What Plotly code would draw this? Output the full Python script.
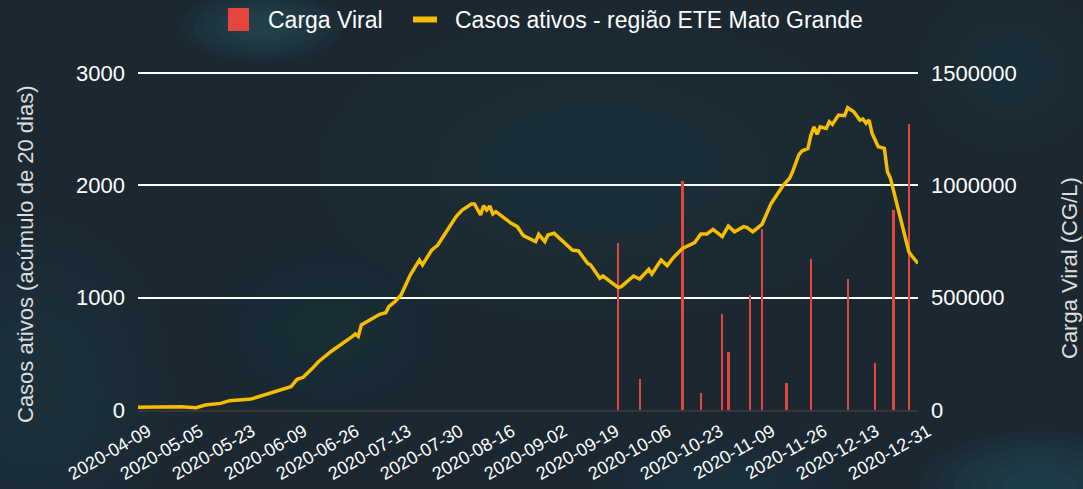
import pandas as pd
import plotly.graph_objects as go

# ---------------- data ----------------
start_date = "2020-04-09"
end_date = "2020-12-31"
missing_dates = ["2020-04-11", "2020-04-12", "2020-04-18", "2020-04-19",
                 "2020-04-25", "2020-04-26", "2020-05-01", "2020-05-02",
                 "2020-05-03", "2020-05-14", "2020-12-25"]
categories = [d.strftime("%Y-%m-%d") for d in pd.date_range(start_date, end_date)
              if d.strftime("%Y-%m-%d") not in missing_dates]

tick_labels = ["2020-04-09", "2020-05-05", "2020-05-23", "2020-06-09", "2020-06-26",
               "2020-07-13", "2020-07-30", "2020-08-16", "2020-09-02", "2020-09-19",
               "2020-10-06", "2020-10-23", "2020-11-09", "2020-11-26", "2020-12-13",
               "2020-12-31"]

line_dates = ["2020-04-09", "2020-04-21", "2020-04-29", "2020-05-07", "2020-05-10",
              "2020-05-16", "2020-05-19", "2020-05-26", "2020-05-30", "2020-06-03",
              "2020-06-08", "2020-06-10", "2020-06-12", "2020-06-15", "2020-06-17",
              "2020-06-21", "2020-06-25", "2020-06-28", "2020-06-29", "2020-06-30",
              "2020-07-01", "2020-07-04", "2020-07-07", "2020-07-09", "2020-07-10",
              "2020-07-12", "2020-07-14", "2020-07-17", "2020-07-20", "2020-07-21",
              "2020-07-24", "2020-07-26", "2020-07-29", "2020-08-01", "2020-08-03",
              "2020-08-06", "2020-08-07", "2020-08-09", "2020-08-10", "2020-08-11",
              "2020-08-12", "2020-08-13", "2020-08-14", "2020-08-16", "2020-08-19",
              "2020-08-21", "2020-08-22", "2020-08-23", "2020-08-27", "2020-08-28",
              "2020-08-30", "2020-08-31", "2020-09-02", "2020-09-05", "2020-09-08",
              "2020-09-10", "2020-09-13", "2020-09-14", "2020-09-17", "2020-09-18",
              "2020-09-23", "2020-09-24", "2020-09-28", "2020-09-30", "2020-10-03",
              "2020-10-04", "2020-10-07", "2020-10-09", "2020-10-11", "2020-10-14",
              "2020-10-18", "2020-10-20", "2020-10-22", "2020-10-24", "2020-10-27",
              "2020-10-29", "2020-10-31", "2020-11-03", "2020-11-04", "2020-11-06",
              "2020-11-09", "2020-11-12", "2020-11-15", "2020-11-16", "2020-11-18",
              "2020-11-19", "2020-11-21", "2020-11-22", "2020-11-24", "2020-11-25",
              "2020-11-26", "2020-11-27", "2020-11-28", "2020-11-30", "2020-12-01",
              "2020-12-02", "2020-12-04", "2020-12-06", "2020-12-07", "2020-12-09",
              "2020-12-11", "2020-12-12", "2020-12-13", "2020-12-14", "2020-12-15",
              "2020-12-17", "2020-12-19", "2020-12-20", "2020-12-21", "2020-12-23",
              "2020-12-26", "2020-12-28", "2020-12-29", "2020-12-31"]
casos_ativos = [25, 27, 29, 20, 44,
                59, 83, 98, 133, 169,
                207, 273, 291, 371, 430,
                519, 593, 653, 677, 655,
                757, 801, 852, 866, 920,
                964, 1024, 1202, 1335, 1291,
                1424, 1469, 1602, 1721, 1780,
                1834, 1834, 1736, 1819, 1780,
                1816, 1745, 1766, 1721, 1662,
                1632, 1587, 1552, 1499, 1564,
                1499, 1558, 1573, 1499, 1424,
                1416, 1305, 1291, 1172, 1193,
                1089, 1098, 1193, 1166, 1252,
                1211, 1335, 1285, 1356, 1439,
                1490, 1567, 1567, 1608, 1543,
                1638, 1587, 1632, 1626, 1587,
                1653, 1839, 1973, 2003, 2062,
                2121, 2270, 2305, 2329, 2447,
                2521, 2453, 2521, 2506, 2566,
                2542, 2626, 2620, 2691, 2655,
                2581, 2590, 2552, 2581, 2462,
                2344, 2329, 2121, 2062, 1854,
                1617, 1409, 1371, 1305]

bar_dates = ["2020-09-23", "2020-09-30", "2020-10-14", "2020-10-20", "2020-10-27",
             "2020-10-29", "2020-11-05", "2020-11-09", "2020-11-17", "2020-11-25",
             "2020-12-07", "2020-12-16", "2020-12-22", "2020-12-28"]
carga_viral = [742000, 137000, 1020000, 74000, 426000,
               260000, 512000, 804000, 120000, 671000,
               583000, 208000, 889000, 1275000]

left_ticks = [0, 1000, 2000, 3000]
right_ticks = [0, 500000, 1000000, 1500000]

series_names = ["Carga Viral", "Casos ativos - região ETE Mato Grande"]
series_colors = ["#e5463b", "#f7bd00"]

# ---------------- figure ----------------
W, H = 1083, 489
L, R, T, B = 138, 165, 71, 79
PLOT_H = H - T - B
TOP_PX_FOR_MAX = 337  # pixel height of the 3000 / 1500000 level above the x axis
y_right_max = right_ticks[-1] * PLOT_H / TOP_PX_FOR_MAX
y_left_max = left_ticks[-1] * PLOT_H / TOP_PX_FOR_MAX
FONT = "Liberation Sans, Arial, sans-serif"


def px_x(px):
    return (px - L) / (W - L - R)


def px_y(py):
    return (H - B - py) / PLOT_H


fig = go.Figure()

fig.add_trace(go.Bar(
    x=bar_dates, y=carga_viral, name=series_names[0], yaxis="y",
    marker=dict(color=series_colors[0], line=dict(width=0)), width=0.75,
))
fig.add_trace(go.Scatter(
    x=line_dates, y=casos_ativos, name=series_names[1],
    yaxis="y2", mode="lines", line=dict(color=series_colors[1], width=3.5),
))

# soft background blobs (concentric translucent ellipses)
blobs = [
    (262, 26, 80, 36, (48, 96, 106), 0.09),
    (40, 390, 130, 170, (34, 74, 84), 0.07),
    (1040, 486, 120, 55, (44, 92, 102), 0.10),
    (600, 170, 280, 150, (34, 72, 82), 0.05),
    (720, 480, 130, 40, (34, 72, 82), 0.07),
    (1010, 70, 90, 80, (34, 70, 80), 0.05),
    (330, 330, 120, 90, (34, 72, 82), 0.04),
]
shapes = []
for cx, cy, rx, ry, (r_, g_, b_), a in blobs:
    for s in (1.0, 0.86, 0.72, 0.58, 0.44, 0.3):
        shapes.append(dict(type="circle", xref="paper", yref="paper", layer="below",
                           x0=px_x(cx - rx * s), x1=px_x(cx + rx * s),
                           y0=px_y(cy + ry * s), y1=px_y(cy - ry * s),
                           fillcolor=f"rgba({r_},{g_},{b_},{a})", line=dict(width=0)))

# custom legend (symbols as shapes, labels as text)
shapes.append(dict(type="rect", xref="paper", yref="paper", layer="above",
                   x0=px_x(228), x1=px_x(249), y0=px_y(31), y1=px_y(8),
                   fillcolor=series_colors[0], line=dict(width=0)))
shapes.append(dict(type="rect", xref="paper", yref="paper", layer="above",
                   x0=px_x(413), x1=px_x(437), y0=px_y(22.5), y1=px_y(16.5),
                   fillcolor=series_colors[1], line=dict(width=0)))
annotations = [
    dict(text=series_names[0], xref="paper", yref="paper", x=px_x(266), y=px_y(19.5),
         xanchor="left", yanchor="middle", showarrow=False,
         font=dict(size=23, color="#ffffff")),
    dict(text=series_names[1], xref="paper", yref="paper", x=px_x(453), y=px_y(19.5),
         xanchor="left", yanchor="middle", showarrow=False,
         font=dict(size=23, color="#ffffff")),
    dict(text="Casos ativos (acúmulo de 20 dias)", textangle=-90, xref="paper",
         yref="paper", x=px_x(26), y=px_y(254), xanchor="center", yanchor="middle",
         showarrow=False, font=dict(size=22, color="#dddddd")),
    dict(text="Carga Viral (CG/L)", textangle=-90, xref="paper",
         yref="paper", x=px_x(1069), y=px_y(268), xanchor="center", yanchor="middle",
         showarrow=False, font=dict(size=22, color="#dddddd")),
]

fig.update_layout(
    width=W, height=H,
    margin=dict(l=L, r=R, t=T, b=B, autoexpand=False),
    paper_bgcolor="#1b2731",
    plot_bgcolor="rgba(0,0,0,0)",
    font=dict(family=FONT, color="#ffffff", size=20),
    shapes=shapes,
    annotations=annotations,
    bargap=0,
    showlegend=False,
    xaxis=dict(
        type="category", categoryorder="array", categoryarray=categories,
        range=[0, len(categories) - 1], automargin=False,
        tickmode="array", tickvals=tick_labels, ticktext=tick_labels,
        tickangle=-30, tickfont=dict(size=18, color="#ffffff"),
        ticklabelshift=10, ticklabelstandoff=2,
        showgrid=False, showline=True, linecolor="#3a3634", linewidth=2,
        ticks="", zeroline=False,
    ),
    yaxis=dict(
        side="right", range=[0, y_right_max], tickmode="array", tickvals=right_ticks,
        ticktext=[str(v) for v in right_ticks], tickfont=dict(size=22, color="#ffffff"),
        showgrid=True, gridcolor="#ffffff", gridwidth=2, zeroline=False,
        showline=False, ticks="", ticklabelstandoff=12, automargin=False,
    ),
    yaxis2=dict(
        overlaying="y", side="left", range=[0, y_left_max], tickmode="array",
        tickvals=left_ticks, ticktext=[str(v) for v in left_ticks],
        tickfont=dict(size=22, color="#ffffff"), showgrid=False, zeroline=False,
        showline=False, ticks="", ticklabelstandoff=12, automargin=False,
    ),
)

fig.write_html("out.html", config={"displayModeBar": False},
               post_script="document.body.style.margin='0';")
